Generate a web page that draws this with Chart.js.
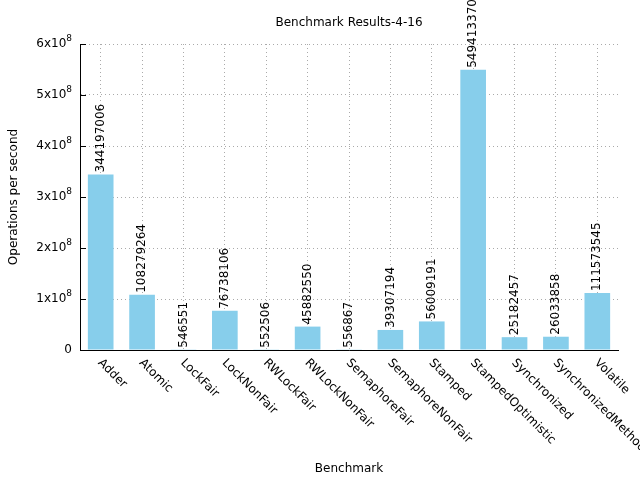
<!DOCTYPE html>
<html>
<head>
<meta charset="utf-8">
<script src="https://cdn.jsdelivr.net/npm/chart.js@4"></script>
<style>
  html, body { margin: 0; padding: 0; background: #fff; }
</style>
</head>
<body>
<canvas id="benchChart" width="640" height="480"></canvas>
<script>
const benchmarks = ['Adder', 'Atomic', 'LockFair', 'LockNonFair', 'RWLockFair', 'RWLockNonFair',
  'SemaphoreFair', 'SemaphoreNonFair', 'Stamped', 'StampedOptimistic', 'Synchronized',
  'SynchronizedMethod', 'Volatile'];
const opsPerSecond = [344197006, 108279264, 546551, 76738106, 552506, 45882550,
  556867, 39307194, 56009191, 549413370, 25182457, 26033858, 111573545];
const yTickMantissa = [0, 1, 2, 3, 4, 5, 6]; // x10^8

const FONT = '"DejaVu Sans", sans-serif';

// gnuplot-ish extras: title, superscript y labels, inward ticks, rotated x labels, value labels
const gnuplotLook = {
  id: 'gnuplotLook',
  afterDraw(chart) {
    const { ctx, chartArea: a } = chart;
    const x = chart.scales.x, y = chart.scales.y;
    ctx.save();
    ctx.fillStyle = '#000';
    ctx.strokeStyle = '#000';
    ctx.lineWidth = 1;

    // title
    ctx.font = '12px ' + FONT;
    ctx.textAlign = 'center';
    ctx.textBaseline = 'middle';
    ctx.fillText('Benchmark Results-4-16', (a.left + a.right) / 2, 23);

    // y tick labels + inward tick marks
    yTickMantissa.forEach(m => {
      const py = Math.round(y.getPixelForValue(m * 1e8));
      if (m > 0) {
        ctx.beginPath();
        ctx.moveTo(a.left, py + 0.5);
        ctx.lineTo(a.left + 6, py + 0.5);
        ctx.stroke();
      }
      const right = a.left - 8;
      if (m === 0) {
        ctx.font = '12px ' + FONT;
        ctx.textAlign = 'right';
        ctx.fillText('0', right, py);
      } else {
        ctx.font = '9px ' + FONT;
        const supW = ctx.measureText('8').width;
        ctx.textAlign = 'right';
        ctx.fillText('8', right, py - 5);
        ctx.font = '12px ' + FONT;
        ctx.fillText(m + 'x10', right - supW, py);
      }
    });

    // x category labels, rotated 45deg clockwise
    ctx.font = '12px ' + FONT;
    ctx.textAlign = 'left';
    ctx.textBaseline = 'middle';
    benchmarks.forEach((name, i) => {
      const px = x.getPixelForTick(i);
      ctx.save();
      ctx.translate(px - 1, 361);
      ctx.rotate(Math.PI / 4);
      ctx.fillText(name, 0, 0);
      ctx.restore();
    });

    // value labels above bars
    const meta = chart.getDatasetMeta(0);
    meta.data.forEach((bar, i) => {
      ctx.save();
      ctx.translate(bar.x, bar.y - 2);
      ctx.rotate(-Math.PI / 2);
      ctx.textAlign = 'left';
      ctx.textBaseline = 'middle';
      ctx.fillText(String(opsPerSecond[i]), 0, 0);
      ctx.restore();
    });
    ctx.restore();
  }
};

new Chart(document.getElementById('benchChart'), {
  type: 'bar',
  data: {
    labels: benchmarks,
    datasets: [{
      data: opsPerSecond,
      backgroundColor: '#87ceeb',
      borderWidth: 0,
      barPercentage: 0.62,
      categoryPercentage: 1.0
    }]
  },
  options: {
    responsive: false,
    animation: false,
    layout: { padding: { top: 44, right: 22, left: 0, bottom: 0 } },
    plugins: {
      legend: { display: false },
      tooltip: { enabled: false },
      title: { display: false }
    },
    scales: {
      x: {
        offset: true,
        afterFit(scale) { scale.height = 130; },
        ticks: { display: false },
        grid: { offset: false, color: '#aaaaaa', lineWidth: 1, drawTicks: false },
        border: { display: true, color: '#000', width: 1, dash: [1, 3] },
        title: {
          display: true, text: 'Benchmark', color: '#000',
          font: { family: FONT, size: 12 }, padding: { top: 0, bottom: 4 }
        }
      },
      y: {
        min: 0,
        max: 6e8,
        afterFit(scale) { scale.width = 80; },
        ticks: { display: false, stepSize: 1e8 },
        grid: { color: '#aaaaaa', lineWidth: 1, drawTicks: false },
        border: { display: true, color: '#000', width: 1, dash: [1, 3] },
        title: {
          display: true, text: 'Operations per second', color: '#000',
          font: { family: FONT, size: 12 }, padding: { top: 7, bottom: 0 }
        }
      }
    }
  },
  plugins: [gnuplotLook]
});
</script>
</body>
</html>
